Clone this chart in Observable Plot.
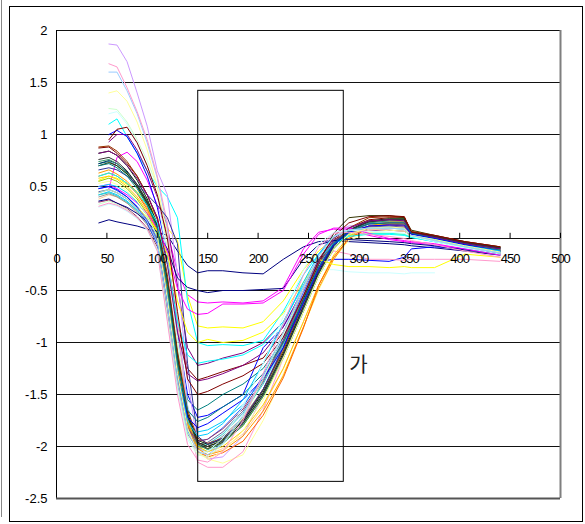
<!DOCTYPE html>
<html>
<head>
<meta charset="utf-8">
<script src="https://cdn.jsdelivr.net/npm/d3@7"></script>
<script src="https://cdn.jsdelivr.net/npm/@observablehq/plot@0.6"></script>
<style>
  body { margin: 0; background: #fff; }
  #chart { width: 585px; height: 524px; }
  .xlab text { letter-spacing: -1px; }
</style>
</head>
<body>
<div id="chart"></div>
<script>
// ---------- data ----------
const xGrid = [42, 52, 60, 70, 80, 90, 100, 110, 120, 130, 140, 150, 165, 185, 205, 225, 245, 260, 275, 290, 310, 330, 345, 352, 375, 405, 440];

const seriesColors = [
  "#000080", "#FF00FF", "#FFFF00", "#00FFFF", "#800080", "#800000", "#008080", "#0000FF",
  "#00CCFF", "#CCFFFF", "#CCFFCC", "#FFFF99", "#99CCFF", "#FF99CC", "#CC99FF", "#FFCC99",
  "#3366FF", "#33CCCC", "#99CC00", "#FFCC00", "#FF9900", "#FF6600", "#666699", "#969696",
  "#003366", "#339966", "#003300", "#333300", "#993300", "#993366", "#333399", "#333333",
  "#000080", "#FF00FF", "#FFFF00", "#00FFFF", "#800080", "#800000", "#008080", "#0000FF",
  "#00CCFF", "#CCFFFF", "#CCFFCC", "#FFFF99", "#99CCFF", "#FF99CC"
];

const seriesValues = [
  [0.15, 0.18, 0.16, 0.14, 0.12, 0.09, 0.06, 0.03, -0.12, -0.26, -0.33, -0.31, -0.31, -0.33, -0.34, -0.2, -0.08, -0.03, -0.02, -0.03, -0.04, -0.05, -0.06, -0.07, -0.09, -0.12, -0.16],
  [null, 0.48, 0.78, 0.83, 0.74, 0.56, 0.32, 0.06, -0.32, -0.54, -0.61, -0.62, -0.61, -0.62, -0.6, -0.47, -0.1, 0.06, 0.09, 0.08, 0.03, -0.01, -0.03, -0.04, -0.06, -0.1, -0.15],
  [0.56, 0.6, 0.58, 0.52, 0.45, 0.35, 0.2, 0.1, -0.02, -0.55, -0.84, -0.86, -0.85, -0.86, -0.8, -0.6, -0.3, -0.12, 0.0, 0.04, 0.05, 0.05, 0.04, 0.02, -0.02, -0.08, -0.14],
  [null, 1.1, 1.15, 0.98, 0.82, 0.65, 0.5, 0.4, 0.2, -0.6, -1.0, -1.03, -1.02, -1.03, -0.98, -0.7, -0.35, -0.15, -0.02, 0.03, 0.05, 0.05, 0.04, 0.01, -0.03, -0.08, -0.13],
  [null, 0.93, 1.0, 1.0, 0.85, 0.65, 0.4, 0.12, -0.45, -1.05, -1.22, -1.2, -1.15, -1.1, -1.0, -0.8, -0.45, -0.2, -0.02, 0.05, 0.08, 0.08, 0.07, 0.03, -0.01, -0.07, -0.12],
  [0.87, 0.88, 0.82, 0.72, 0.6, 0.42, 0.2, -0.2, -0.8, -1.25, -1.36, -1.33, -1.28, -1.22, -1.15, -0.9, -0.5, -0.22, -0.02, 0.1, 0.18, 0.2, 0.2, 0.06, 0.02, -0.04, -0.09],
  [0.72, 0.74, 0.7, 0.62, 0.5, 0.34, 0.12, -0.4, -1.1, -1.55, -1.65, -1.6, -1.5, -1.4, -1.25, -0.98, -0.55, -0.25, -0.03, 0.08, 0.15, 0.16, 0.16, 0.05, 0.0, -0.06, -0.11],
  [null, 1.0, 1.04, 0.98, 0.82, 0.6, 0.3, -0.15, -0.9, -1.5, -1.72, -1.7, -1.62, -1.5, -1.05, -0.85, -0.5, -0.22, -0.2, -0.2, -0.21, -0.22, -0.18, -0.1, -0.08, -0.1, -0.14],
  [0.42, 0.45, 0.42, 0.36, 0.27, 0.14, -0.05, -0.62, -1.35, -1.78, -1.86, -1.84, -1.76, -1.6, -1.35, -1.0, -0.58, -0.27, -0.05, 0.05, 0.1, 0.11, 0.1, 0.03, -0.01, -0.07, -0.12],
  [null, 1.2, 1.22, 1.1, 0.92, 0.7, 0.42, -0.2, -1.0, -1.75, -2.05, -2.03, -1.9, -1.6, -1.2, -0.8, -0.45, -0.3, -0.3, -0.32, -0.33, -0.33, -0.34, -0.33, -0.33, null, null],
  [null, 1.25, 1.24, 1.12, 0.95, 0.75, 0.5, -0.1, -0.95, -1.7, -2.02, -2.05, -1.95, -1.72, -1.38, -0.95, -0.5, -0.2, 0.0, 0.08, 0.12, 0.13, 0.12, 0.05, 0.01, -0.05, -0.11],
  [null, 1.4, 1.42, 1.32, 1.12, 0.85, 0.5, 0.05, -0.75, -1.65, -2.05, -2.12, -2.16, -2.08, -1.75, -1.3, -0.85, -0.5, -0.2, -0.02, 0.06, 0.08, 0.07, 0.03, -0.02, -0.07, -0.12],
  [null, 1.6, 1.6, 1.42, 1.2, 0.92, 0.58, 0.1, -0.8, -1.6, -2.02, -2.05, -1.98, -1.78, -1.45, -1.02, -0.55, -0.22, 0.0, 0.1, 0.15, 0.16, 0.16, 0.05, 0.01, -0.05, -0.1],
  [null, 1.68, 1.65, 1.45, 1.22, 0.95, 0.6, 0.15, -0.8, -1.7, -2.15, -2.2, -2.2, -2.05, -1.65, -1.15, -0.65, -0.3, -0.12, -0.15, -0.2, -0.2, -0.21, -0.2, -0.2, -0.2, -0.22],
  [null, 1.87, 1.86, 1.7, 1.4, 1.08, 0.65, 0.42, -0.35, -1.35, -1.98, -2.12, -2.1, -1.9, -1.5, -1.0, -0.5, -0.15, 0.05, 0.12, 0.14, 0.13, 0.12, 0.04, 0.0, -0.05, -0.1],
  [0.38, 0.42, 0.4, 0.34, 0.26, 0.14, -0.02, -0.6, -1.35, -1.85, -2.05, -2.08, -2.02, -1.88, -1.62, -1.25, -0.8, -0.45, -0.18, 0.0, 0.08, 0.1, 0.09, 0.03, -0.01, -0.07, -0.13],
  [0.48, 0.5, 0.46, 0.4, 0.31, 0.18, 0.0, -0.55, -1.3, -1.8, -1.95, -1.93, -1.82, -1.62, -1.32, -0.95, -0.52, -0.22, -0.02, 0.06, 0.1, 0.11, 0.1, 0.03, -0.01, -0.07, -0.13],
  [0.42, 0.44, 0.41, 0.35, 0.27, 0.15, -0.03, -0.65, -1.4, -1.85, -2.0, -1.98, -1.88, -1.68, -1.4, -1.02, -0.6, -0.28, -0.05, 0.05, 0.1, 0.11, 0.1, 0.03, -0.01, -0.07, -0.12],
  [0.55, 0.58, 0.55, 0.48, 0.38, 0.24, 0.04, -0.52, -1.25, -1.78, -2.0, -2.02, -1.96, -1.8, -1.52, -1.15, -0.7, -0.36, -0.1, 0.04, 0.12, 0.14, 0.13, 0.04, 0.0, -0.06, -0.12],
  [0.58, 0.6, 0.57, 0.5, 0.4, 0.26, 0.06, -0.5, -1.22, -1.76, -2.0, -2.05, -2.0, -1.85, -1.6, -1.25, -0.8, -0.45, -0.16, 0.02, 0.12, 0.15, 0.14, 0.05, 0.01, -0.05, -0.11],
  [0.63, 0.66, 0.62, 0.55, 0.44, 0.3, 0.1, -0.45, -1.2, -1.75, -2.02, -2.08, -2.04, -1.9, -1.66, -1.32, -0.85, -0.48, -0.2, 0.0, 0.12, 0.16, 0.16, 0.05, 0.01, -0.05, -0.11],
  [0.6, 0.63, 0.6, 0.53, 0.43, 0.28, 0.08, -0.5, -1.25, -1.8, -2.05, -2.1, -2.06, -1.95, -1.7, -1.34, -0.86, -0.45, -0.18, 0.0, 0.1, 0.14, 0.14, 0.05, 0.01, -0.05, -0.1],
  [0.45, 0.47, 0.44, 0.38, 0.29, 0.17, -0.02, -0.6, -1.35, -1.82, -1.98, -1.96, -1.86, -1.66, -1.38, -1.0, -0.56, -0.25, -0.03, 0.06, 0.11, 0.12, 0.11, 0.04, 0.0, -0.06, -0.12],
  [0.4, 0.43, 0.4, 0.34, 0.25, 0.13, -0.05, -0.68, -1.42, -1.88, -2.02, -2.0, -1.9, -1.72, -1.45, -1.08, -0.64, -0.3, -0.06, 0.05, 0.1, 0.11, 0.1, 0.03, -0.01, -0.07, -0.13],
  [0.72, 0.75, 0.72, 0.64, 0.52, 0.35, 0.12, -0.42, -1.15, -1.7, -1.96, -2.0, -1.95, -1.78, -1.5, -1.12, -0.68, -0.34, -0.08, 0.08, 0.16, 0.18, 0.18, 0.06, 0.02, -0.04, -0.09],
  [0.74, 0.76, 0.72, 0.63, 0.5, 0.33, 0.1, -0.45, -1.18, -1.72, -1.98, -2.03, -1.97, -1.8, -1.52, -1.15, -0.7, -0.36, -0.1, 0.06, 0.15, 0.17, 0.17, 0.06, 0.02, -0.04, -0.09],
  [0.82, 0.84, 0.8, 0.7, 0.56, 0.38, 0.14, -0.4, -1.12, -1.68, -1.94, -1.98, -1.93, -1.76, -1.48, -1.1, -0.65, -0.32, -0.06, 0.08, 0.17, 0.19, 0.19, 0.06, 0.02, -0.04, -0.09],
  [0.7, 0.73, 0.7, 0.62, 0.5, 0.34, 0.12, -0.42, -1.15, -1.7, -1.96, -2.0, -1.94, -1.76, -1.46, -1.05, -0.58, -0.25, 0.05, 0.2, 0.22, 0.22, 0.2, 0.08, 0.03, -0.03, -0.08],
  [0.88, 0.89, 0.84, 0.74, 0.6, 0.42, 0.18, -0.35, -1.08, -1.65, -1.92, -1.97, -1.92, -1.74, -1.45, -1.08, -0.62, -0.3, -0.05, 0.1, 0.2, 0.21, 0.21, 0.07, 0.03, -0.03, -0.08],
  [0.35, 0.37, 0.34, 0.29, 0.21, 0.1, -0.08, -0.7, -1.4, -1.82, -1.95, -1.93, -1.83, -1.64, -1.36, -0.98, -0.55, -0.24, -0.02, 0.07, 0.12, 0.13, 0.12, 0.04, 0.0, -0.06, -0.12],
  [0.66, 0.68, 0.66, 0.6, 0.52, 0.42, 0.32, 0.2, -0.05, -1.2, -1.9, -1.98, -1.92, -1.75, -1.45, -1.05, -0.6, -0.28, -0.04, 0.07, 0.14, 0.15, 0.15, 0.05, 0.01, -0.05, -0.1],
  [0.76, 0.78, 0.74, 0.65, 0.52, 0.36, 0.13, -0.43, -1.16, -1.7, -1.97, -2.02, -1.96, -1.78, -1.5, -1.12, -0.66, -0.33, -0.07, 0.08, 0.16, 0.18, 0.18, 0.06, 0.02, -0.04, -0.09],
  [0.36, 0.38, 0.34, 0.3, 0.24, 0.16, 0.06, -0.1, -0.38, -0.47, -0.5, -0.52, -0.5, -0.5, -0.49, -0.48, -0.2, -0.06, -0.02, -0.01, -0.02, -0.03, -0.04, -0.05, -0.07, -0.11, -0.15],
  [0.5, 0.52, 0.48, 0.42, 0.34, 0.24, 0.1, -0.12, -0.48, -0.68, -0.73, -0.72, -0.63, -0.63, -0.62, -0.5, -0.15, 0.04, 0.1, 0.1, 0.05, 0.0, -0.02, -0.03, -0.05, -0.1, -0.16],
  [0.44, 0.47, 0.44, 0.38, 0.3, 0.2, 0.08, -0.15, -0.6, -0.9, -1.0, -0.97, -1.0, -0.98, -0.9, -0.72, -0.42, -0.2, -0.25, -0.27, -0.27, -0.28, -0.27, -0.28, -0.28, -0.15, -0.18],
  [0.6, 0.63, 0.6, 0.53, 0.44, 0.32, 0.15, -0.25, -0.8, -1.12, -1.2, -1.18, -1.16, -1.12, -1.02, -0.8, -0.45, -0.2, -0.05, 0.02, 0.04, 0.04, 0.03, 0.01, -0.03, -0.08, -0.13],
  [0.82, 0.84, 0.8, 0.7, 0.58, 0.42, 0.2, -0.25, -0.9, -1.3, -1.37, -1.35, -1.3, -1.22, -1.1, -0.85, -0.48, -0.2, 0.0, 0.1, 0.17, 0.18, 0.17, 0.05, 0.01, -0.05, -0.1],
  [null, 0.95, 1.05, 1.07, 0.92, 0.7, 0.42, 0.0, -0.7, -1.35, -1.5, -1.47, -1.4, -1.32, -1.2, -0.95, -0.55, -0.22, 0.02, 0.15, 0.21, 0.22, 0.21, 0.06, 0.03, -0.03, -0.08],
  [0.7, 0.72, 0.68, 0.6, 0.48, 0.32, 0.1, -0.45, -1.2, -1.65, -1.76, -1.72, -1.62, -1.5, -1.3, -1.0, -0.6, -0.28, -0.05, 0.07, 0.14, 0.15, 0.15, 0.05, 0.0, -0.06, -0.11],
  [0.48, 0.5, 0.47, 0.4, 0.3, 0.15, -0.05, -0.6, -1.3, -1.72, -1.82, -1.78, -1.68, -1.55, -1.35, -1.05, -0.62, -0.3, -0.06, 0.06, 0.12, 0.13, 0.13, 0.04, 0.0, -0.06, -0.12],
  [0.5, 0.52, 0.5, 0.44, 0.35, 0.22, 0.02, -0.55, -1.28, -1.76, -1.9, -1.88, -1.78, -1.55, -1.2, -0.82, -0.42, -0.15, 0.02, 0.08, 0.1, 0.1, 0.09, 0.03, -0.01, -0.07, -0.12],
  [0.3, 0.33, 0.31, 0.26, 0.19, 0.08, -0.12, -0.78, -1.45, -1.93, -2.08, -2.05, -1.92, -1.62, -1.2, -0.75, -0.3, -0.05, 0.06, 0.08, 0.07, 0.06, 0.05, 0.02, -0.03, -0.09, -0.15],
  [0.33, 0.36, 0.33, 0.28, 0.2, 0.09, -0.1, -0.74, -1.42, -1.9, -2.08, -2.1, -1.98, -1.72, -1.35, -0.92, -0.48, -0.18, 0.02, 0.08, 0.1, 0.1, 0.09, 0.03, -0.02, -0.08, -0.14],
  [0.53, 0.55, 0.52, 0.46, 0.36, 0.22, 0.02, -0.58, -1.3, -1.82, -2.06, -2.12, -2.05, -1.85, -1.55, -1.15, -0.7, -0.36, -0.1, 0.04, 0.1, 0.11, 0.1, 0.03, -0.01, -0.07, -0.13],
  [0.44, 0.47, 0.44, 0.38, 0.29, 0.16, -0.04, -0.66, -1.38, -1.86, -2.05, -2.08, -1.97, -1.7, -1.32, -0.9, -0.46, -0.17, 0.02, 0.08, 0.1, 0.1, 0.09, 0.03, -0.02, -0.08, -0.14],
  [0.31, 0.34, 0.32, 0.27, 0.2, 0.09, -0.12, -0.8, -1.5, -1.98, -2.13, -2.15, -2.05, -1.75, -1.3, -0.82, -0.35, -0.08, 0.05, 0.06, 0.04, 0.02, 0.0, -0.02, -0.06, -0.12, -0.18]
];

const xTicks = [0, 50, 100, 150, 200, 250, 300, 350, 400, 450, 500];
const yTicks = [-2.5, -2, -1.5, -1, -0.5, 0, 0.5, 1, 1.5, 2];
const boxX = [140.6, 285];
const boxY = [-2.34, 1.42];
const noteText = "가";
const noteX = 290.5;
const noteY = -1.22;

// ---------- build tidy rows ----------
const seriesNames = seriesValues.map((_, i) => "S" + (i + 1));
const rows = [];
seriesValues.forEach((vals, i) => {
  vals.forEach((v, j) => {
    if (v !== null) rows.push({series: seriesNames[i], x: xGrid[j], y: v});
  });
});

const font = "'Liberation Sans', Arial, sans-serif";

const chart = Plot.plot({
  width: 585,
  height: 524,
  marginLeft: 56,
  marginRight: 25,
  marginTop: 30,
  marginBottom: 26,
  x: {domain: [0, 500], axis: null},
  y: {domain: [-2.5, 2], axis: null},
  color: {domain: seriesNames, range: seriesColors},
  style: {fontFamily: font, background: "#fff", color: "#000"},
  marks: [
    Plot.ruleY(yTicks.filter(d => d > -2.5), {stroke: "#111", strokeWidth: 1}),
    Plot.line(rows, {x: "x", y: "y", z: "series", stroke: "series", strokeWidth: 1}),
    Plot.rect([{x1: boxX[0], x2: boxX[1], y1: boxY[0], y2: boxY[1]}],
      {x1: "x1", x2: "x2", y1: "y1", y2: "y2", fill: "none", stroke: "#000", strokeWidth: 1}),
    Plot.ruleX([0], {stroke: "#000", strokeWidth: 1}),
    Plot.ruleX([500], {stroke: "#7f7f7f", strokeWidth: 2}),
    Plot.ruleY([-2.5], {stroke: "#555", strokeWidth: 2}),
    Plot.ruleX(xTicks, {y1: 0, y2: 0.05, stroke: "#000", strokeWidth: 1}),
    Plot.text(xTicks, {x: d => d, y: 0, dy: 20, text: d => String(d), fontSize: 13, fill: "#000", className: "xlab"}),
    Plot.text(yTicks, {x: 0, y: d => d, dx: -9, textAnchor: "end", text: d => String(d), fontSize: 13, fill: "#000"}),
    Plot.text([noteText], {x: noteX, y: noteY, text: d => d, textAnchor: "start", fontSize: 20,
      fontFamily: "'Noto Sans CJK KR', 'Noto Sans', sans-serif", fill: "#222"})
  ]
});

// outer chart frame (decoration)
const svg = d3.select(chart);
svg.append("rect").attr("x", 9.5).attr("y", 6.5).attr("width", 573).attr("height", 515)
  .attr("fill", "none").attr("stroke", "#000").attr("stroke-width", 1);
svg.append("line").attr("x1", 1.5).attr("x2", 1.5).attr("y1", 0).attr("y2", 517)
  .attr("stroke", "#888").attr("stroke-width", 1);

document.getElementById("chart").appendChild(chart);
</script>
</body>
</html>
